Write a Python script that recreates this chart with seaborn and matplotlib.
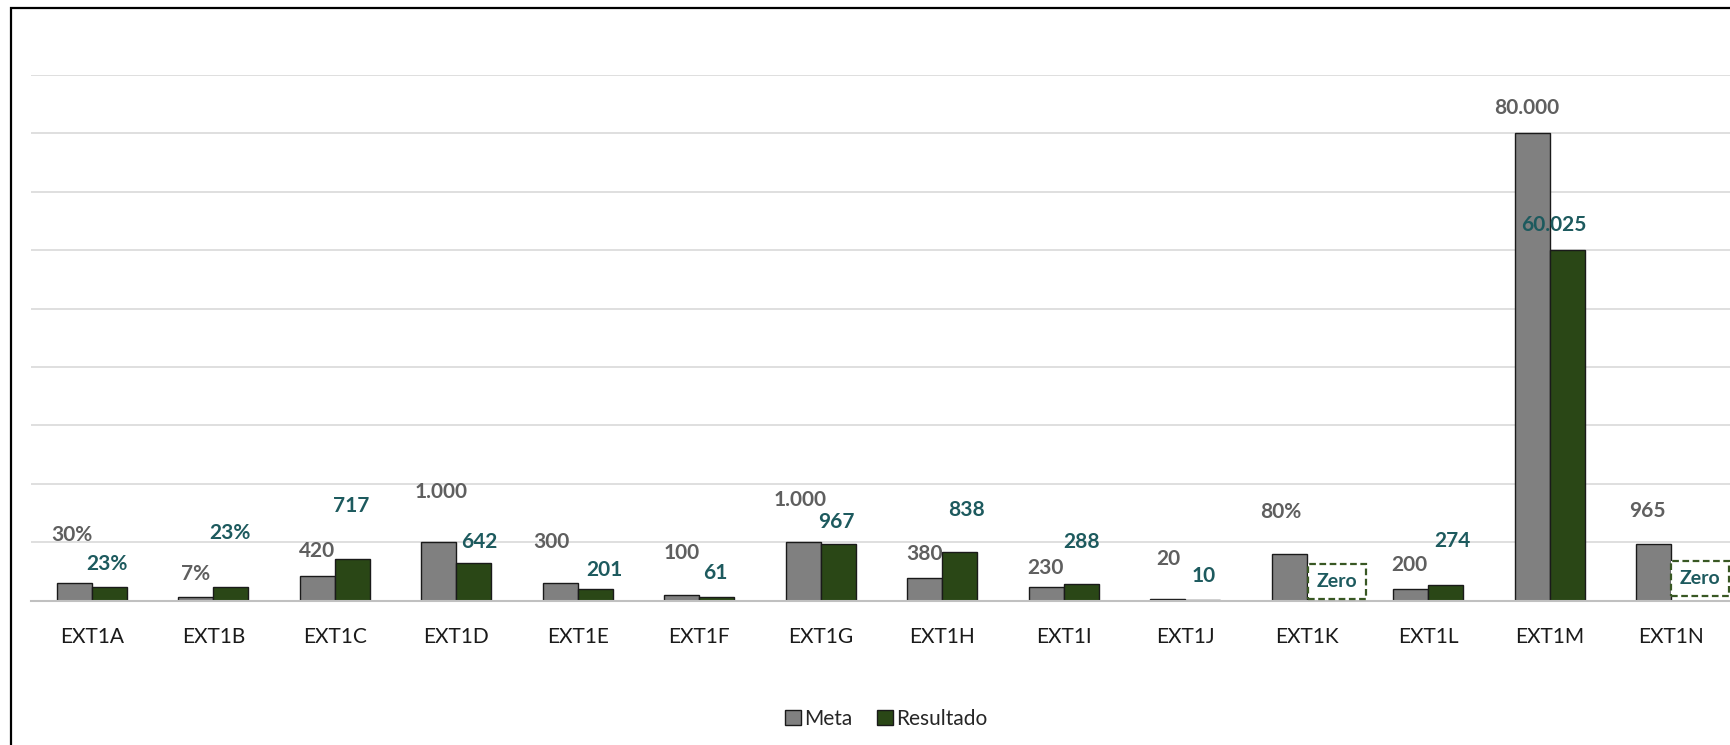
import matplotlib
matplotlib.use("Agg")
import matplotlib.pyplot as plt
from matplotlib.patches import Rectangle
import seaborn as sns
import pandas as pd

# Indicator codes and their values
categorias = ["EXT1A", "EXT1B", "EXT1C", "EXT1D", "EXT1E", "EXT1F", "EXT1G",
              "EXT1H", "EXT1I", "EXT1J", "EXT1K", "EXT1L", "EXT1M", "EXT1N"]
meta = [0.30, 0.07, 420, 1000, 300, 100, 1000, 380, 230, 20, 0.80, 200, 80000, 965]
resultado = [0.23, 0.23, 717, 642, 201, 61, 967, 838, 288, 10, 0, 274, 60025, 0]
# display factor applied to each indicator so that they share one axis
escala = [10000, 10000, 10, 10, 10, 10, 10, 10, 10, 10, 10000, 10, 1, 10]
percentual = [True, True, False, False, False, False, False,
              False, False, False, True, False, False, False]
series = ["Meta", "Resultado"]

# label placement (pixels, relative to bar centre / bar top)
meta_dx = [-2, 0, 0, 2, -9, 0, -3, 0, -1, 1, -9, -1, -6, -6]
meta_dy = [48, 23, 25, 50, 41, 42, 42, 24, 19, 40, 42, 24, 25, 33]
res_dx = [-2, -1, -1, 6, 9, -1, -2, 7, 0, 1, 13, 7, -13, 11]
res_dy = [23, 54, 53, 21, 19, 24, 22, 42, 42, 24, 19, 44, 25, 22]

COR_META = "#808080"
COR_RES = "#2a4716"
COR_TXT_META = "#5f5f5f"
COR_TXT_RES = "#1d5a5e"
FONTE = ["Lato", "DejaVu Sans"]


def formata(v, pct):
    if pct:
        return f"{v * 100:.0f}%"
    return f"{v:,.0f}".replace(",", ".")


linhas = []
for i, cat in enumerate(categorias):
    linhas.append({"categoria": cat, "serie": "Meta", "altura": meta[i] * escala[i]})
    linhas.append({"categoria": cat, "serie": "Resultado", "altura": resultado[i] * escala[i]})
df = pd.DataFrame(linhas)

sns.set_theme(style="white")
plt.rcParams["font.family"] = FONTE

W, H, DPI = 1731, 745, 100
fig = plt.figure(figsize=(W / DPI, H / DPI), dpi=DPI)
fig.patch.set_facecolor("white")

x0, x1 = 31, 1732
y_base, y_top = 600.6, 75
ax = fig.add_axes([x0 / W, 1 - y_base / H, (x1 - x0) / W, (y_base - y_top) / H])

sns.barplot(data=df, x="categoria", y="altura", hue="serie", order=categorias,
            hue_order=series, palette=[COR_META, COR_RES], width=0.575,
            edgecolor="#1a1a1a", linewidth=1.0, saturation=1, ax=ax)

ax.set_ylim(0, 90000)
ax.set_xlim(-0.5, len(categorias) - 0.5)
ax.set_yticks(range(10000, 90001, 10000))
ax.set_yticklabels([])
ax.yaxis.grid(True, color="#d9d9d9", linewidth=1.2)
ax.set_axisbelow(True)
ax.set_xlabel("")
ax.set_ylabel("")
for lado in ["top", "right", "left"]:
    ax.spines[lado].set_visible(False)
ax.spines["bottom"].set_color("#c0c0c0")
ax.spines["bottom"].set_linewidth(1.5)
ax.tick_params(axis="x", length=0, pad=19, labelsize=15, labelcolor="#1a1a1a")
ax.tick_params(axis="y", length=0)
for t in ax.get_xticklabels():
    t.set_fontfamily(FONTE)

cont_meta, cont_res = ax.containers[0], ax.containers[1]

for i, barra in enumerate(cont_meta):
    cx = barra.get_x() + barra.get_width() / 2
    ax.annotate(formata(meta[i], percentual[i]), (cx, barra.get_height()),
                xytext=(meta_dx[i], meta_dy[i]), textcoords="offset pixels",
                ha="center", va="center", fontsize=15, fontweight="bold",
                color=COR_TXT_META, family=FONTE)

for i, barra in enumerate(cont_res):
    cx = barra.get_x() + barra.get_width() / 2
    if resultado[i] == 0:
        ax.annotate("Zero", (cx, 0), xytext=(res_dx[i], res_dy[i]),
                    textcoords="offset pixels", ha="center", va="center",
                    fontsize=14, fontweight="bold", color=COR_TXT_RES, family=FONTE,
                    bbox=dict(boxstyle="square,pad=0.45", facecolor="white",
                              edgecolor="#385723", linestyle=(0, (3, 1.6)), linewidth=1.6))
    else:
        ax.annotate(formata(resultado[i], percentual[i]), (cx, barra.get_height()),
                    xytext=(res_dx[i], res_dy[i]), textcoords="offset pixels",
                    ha="center", va="center", fontsize=15, fontweight="bold",
                    color=COR_TXT_RES, family=FONTE)

handles, labels = ax.get_legend_handles_labels()
ax.legend(handles, labels, loc="center", bbox_to_anchor=(886 / W, 1 - 719 / H),
          bbox_transform=fig.transFigure, ncol=2, frameon=False,
          handlelength=0.75, handleheight=0.75, handletextpad=0.15,
          columnspacing=1.2, prop={"family": FONTE, "size": 15})

# chart frame
fig.patches.append(Rectangle((11 / W, -0.1), 1.2, 1.1 - 8 / H, transform=fig.transFigure,
                             fill=False, edgecolor="black", linewidth=1.6, zorder=10))

fig.savefig("out.png", dpi=DPI, facecolor="white")
